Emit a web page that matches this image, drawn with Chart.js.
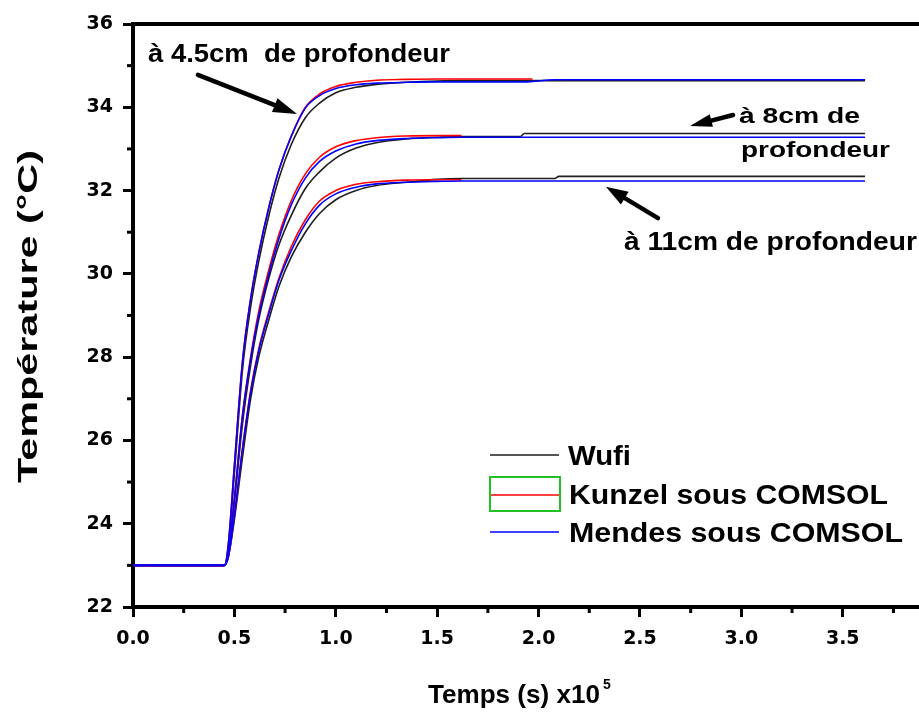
<!DOCTYPE html>
<html>
<head>
<meta charset="utf-8">
<script src="https://cdn.jsdelivr.net/npm/chart.js@4.4.1/dist/chart.umd.min.js"></script>
<style>
html,body{margin:0;padding:0;background:#fff;}
canvas{display:block;}
</style>
</head>
<body>
<canvas id="c" width="919" height="713" style="width:919px;height:713px"></canvas>
<script>
// ---- data (time in units of 1e5 s, temperature in °C) ----
const timeE5 = [0, 0.45, 0.47, 0.50, 0.54, 0.58, 0.62, 0.67, 0.72, 0.78, 0.85, 0.92, 1.00, 1.10, 1.20, 1.35, 1.50, 1.62, 1.80, 1.91, 1.93, 1.97, 2.08, 2.10, 2.50, 3.00, 3.61];

const wufi45   = [23, 23, 23.4, 25.2, 27.7, 29.2, 30.3, 31.4, 32.3, 33.1, 33.75, 34.1, 34.35, 34.48, 34.55, 34.6, 34.63, 34.64, 34.64, 34.64, 34.64, 34.64, 34.64, 34.64, 34.64, 34.64, 34.64];
const kunzel45 = [23, 23, 23.5, 25.4, 27.9, 29.4, 30.5, 31.6, 32.5, 33.3, 34.0, 34.32, 34.5, 34.6, 34.65, 34.67, 34.68, 34.68, 34.68, 34.68, 34.68, 34.68, null, null, null, null, null];
const mendes45 = [23, 23, 23.5, 25.4, 27.9, 29.4, 30.5, 31.6, 32.5, 33.3, 33.98, 34.28, 34.45, 34.54, 34.58, 34.6, 34.61, 34.61, 34.61, 34.61, 34.61, 34.62, 34.66, 34.66, 34.66, 34.66, 34.66];

const wufi8    = [23, 23, 23.3, 24.5, 26.4, 27.8, 28.9, 29.9, 30.7, 31.4, 32.05, 32.45, 32.78, 33.02, 33.15, 33.24, 33.28, 33.3, 33.3, 33.3, 33.37, 33.37, 33.37, 33.37, 33.37, 33.37, 33.37];
const kunzel8  = [23, 23, 23.3, 24.6, 26.6, 28.0, 29.1, 30.1, 30.95, 31.75, 32.4, 32.8, 33.05, 33.2, 33.27, 33.31, 33.32, 33.32, null, null, null, null, null, null, null, null, null];
const mendes8  = [23, 23, 23.3, 24.6, 26.6, 27.95, 29.0, 30.0, 30.85, 31.65, 32.3, 32.7, 32.95, 33.12, 33.2, 33.25, 33.27, 33.28, 33.28, 33.28, 33.28, 33.28, 33.28, 33.28, 33.28, 33.28, 33.28];

const wufi11   = [23, 23, 23.2, 24.1, 25.6, 27.0, 28.0, 28.9, 29.7, 30.4, 31.0, 31.45, 31.78, 32.0, 32.12, 32.2, 32.27, 32.29, 32.29, 32.29, 32.29, 32.29, 32.29, 32.34, 32.34, 32.34, 32.34];
const kunzel11 = [23, 23, 23.2, 24.2, 25.8, 27.2, 28.2, 29.1, 29.9, 30.65, 31.3, 31.75, 32.0, 32.15, 32.21, 32.25, 32.26, 32.26, null, null, null, null, null, null, null, null, null];
const mendes11 = [23, 23, 23.2, 24.2, 25.8, 27.15, 28.15, 29.05, 29.85, 30.55, 31.2, 31.65, 31.92, 32.08, 32.16, 32.2, 32.22, 32.23, 32.23, 32.23, 32.23, 32.23, 32.23, 32.23, 32.23, 32.23, 32.23];

const xTickValues = [0, 0.5, 1.0, 1.5, 2.0, 2.5, 3.0, 3.5];
const xMinorValues = [0.25, 0.75, 1.25, 1.75, 2.25, 2.75, 3.25, 3.75];
const yTickValues = [22, 24, 26, 28, 30, 32, 34, 36];
const yMinorValues = [23, 25, 27, 29, 31, 33, 35];

const seriesNames = ['Wufi', 'Kunzel sous COMSOL', 'Mendes sous COMSOL'];
const depthLabels = ['à 4.5cm  de profondeur', 'à 8cm de', 'profondeur', 'à 11cm de profondeur'];
const xTitle = 'Temps (s) x10';
const xTitleExp = '5';
const yTitle = 'Température (°C)';

// ---- styles ----
const COL_WUFI = '#1e1e1e', COL_KUNZEL = '#ff0000', COL_MENDES = '#0000ff';

function pts(vals){ const out=[]; vals.forEach((v,i)=>{ if(v!==null) out.push({x:timeE5[i], y:v}); }); return out; }
function ds(label, vals, color){ return {label, data:pts(vals), borderColor:color, backgroundColor:color, borderWidth:1.6, pointRadius:0, fill:false, cubicInterpolationMode:'monotone'}; }

// first dataset is drawn on top
const datasets = [
  ds('Mendes 4.5', mendes45, COL_MENDES), ds('Mendes 8', mendes8, COL_MENDES), ds('Mendes 11', mendes11, COL_MENDES),
  ds('Kunzel 4.5', kunzel45, COL_KUNZEL), ds('Kunzel 8', kunzel8, COL_KUNZEL), ds('Kunzel 11', kunzel11, COL_KUNZEL),
  ds('Wufi 4.5', wufi45, COL_WUFI), ds('Wufi 8', wufi8, COL_WUFI), ds('Wufi 11', wufi11, COL_WUFI)
];

function fitText(ctx, str, x, y, size, width, rotate){
  ctx.save();
  ctx.font = 'bold ' + size + 'px "Liberation Sans", Arial, sans-serif';
  ctx.textAlign = 'left'; ctx.textBaseline = 'alphabetic'; ctx.fillStyle = '#000';
  const w = ctx.measureText(str).width;
  ctx.translate(x, y);
  if (rotate) ctx.rotate(-Math.PI/2);
  if (width) ctx.scale(width / w, 1);
  ctx.fillText(str, 0, 0);
  ctx.restore();
}

function arrow(ctx, x1, y1, x2, y2, headLen, headW, lw){
  const ang = Math.atan2(y2-y1, x2-x1);
  const bx = x2 - headLen*Math.cos(ang), by = y2 - headLen*Math.sin(ang);
  ctx.save();
  ctx.strokeStyle = '#000'; ctx.fillStyle = '#000'; ctx.lineWidth = lw; ctx.lineCap = 'round';
  ctx.beginPath(); ctx.moveTo(x1, y1); ctx.lineTo(bx, by); ctx.stroke();
  const nx = -Math.sin(ang), ny = Math.cos(ang);
  ctx.beginPath();
  ctx.moveTo(x2, y2);
  ctx.lineTo(bx + nx*headW/2, by + ny*headW/2);
  ctx.lineTo(bx - nx*headW/2, by - ny*headW/2);
  ctx.closePath(); ctx.fill();
  ctx.restore();
}

const decor = {
  id: 'decor',
  afterDraw(chart){
    const ctx = chart.ctx, a = chart.chartArea;
    const xs = chart.scales.x, ys = chart.scales.y;
    const X = v => xs.getPixelForValue(v), Y = v => ys.getPixelForValue(v);
    ctx.save();
    // top frame line
    ctx.strokeStyle = '#000'; ctx.lineWidth = 4;
    ctx.beginPath(); ctx.moveTo(a.left - 2, a.top); ctx.lineTo(a.right, a.top); ctx.stroke();
    // minor ticks
    ctx.lineWidth = 3;
    xMinorValues.forEach(v => { const p = X(v); ctx.beginPath(); ctx.moveTo(p, a.bottom); ctx.lineTo(p, a.bottom + 6); ctx.stroke(); });
    yMinorValues.forEach(v => { const p = Y(v); ctx.beginPath(); ctx.moveTo(a.left, p); ctx.lineTo(a.left - 6, p); ctx.stroke(); });
    ctx.restore();

    // annotations (anchored in data units)
    fitText(ctx, depthLabels[0], X(0.074), Y(35.09), 25, 302);
    arrow(ctx, X(0.32), Y(34.78), X(0.809), Y(33.84), 24, 15, 4.5);
    fitText(ctx, depthLabels[1], X(2.988), Y(33.62), 22, 121);
    fitText(ctx, depthLabels[2], X(2.998), Y(32.81), 22, 149);
    arrow(ctx, X(2.959), Y(33.815), X(2.747), Y(33.55), 22, 13, 4.5);
    fitText(ctx, depthLabels[3], X(2.421), Y(30.57), 26, 293);
    arrow(ctx, X(2.589), Y(31.34), X(2.332), Y(32.09), 22, 15, 4.5);

    // legend
    ctx.save();
    ctx.lineWidth = 1.6;
    ctx.strokeStyle = COL_WUFI; ctx.beginPath(); ctx.moveTo(490, 455); ctx.lineTo(559, 455); ctx.stroke();
    ctx.strokeStyle = COL_KUNZEL; ctx.beginPath(); ctx.moveTo(491, 495); ctx.lineTo(559, 495); ctx.stroke();
    ctx.strokeStyle = COL_MENDES; ctx.beginPath(); ctx.moveTo(490, 532); ctx.lineTo(559, 532); ctx.stroke();
    ctx.strokeStyle = '#22c022'; ctx.lineWidth = 2; ctx.strokeRect(490, 477, 70, 34);
    ctx.restore();
    fitText(ctx, seriesNames[0], 568, 465, 27, 63);
    fitText(ctx, seriesNames[1], 569, 504, 27, 319);
    fitText(ctx, seriesNames[2], 569, 542, 27, 334);

    // axis titles
    fitText(ctx, xTitle, 428, 703, 26, 172);
    fitText(ctx, xTitleExp, 603, 689, 14, null);
    fitText(ctx, yTitle, 37, 483, 27, 333, true);
  }
};

const tickFont = {family: '"DejaVu Sans", sans-serif', weight: 'bold', size: 19};

new Chart(document.getElementById('c').getContext('2d'), {
  type: 'line',
  data: { datasets },
  options: {
    responsive: false,
    animation: false,
    devicePixelRatio: 1,
    layout: { padding: { top: 24, right: 0, left: 0, bottom: 0 } },
    plugins: { legend: { display: false }, tooltip: { enabled: false } },
    scales: {
      x: {
        type: 'linear', min: 0, max: 3.876,
        afterBuildTicks: s => { s.ticks = xTickValues.map(v => ({ value: v })); },
        afterFit: s => { s.height = 106; },
        ticks: { callback: v => Number(v).toFixed(1), font: tickFont, color: '#000', padding: 11, maxRotation: 0, autoSkip: false },
        grid: { drawOnChartArea: false, drawTicks: true, tickLength: 10, tickWidth: 3, tickColor: '#000' },
        border: { display: true, width: 4, color: '#000' }
      },
      y: {
        type: 'linear', min: 22, max: 36,
        afterBuildTicks: s => { s.ticks = yTickValues.map(v => ({ value: v })); },
        afterFit: s => { s.width = 133; },
        ticks: { callback: v => String(v), font: tickFont, color: '#000', padding: 10, autoSkip: false },
        grid: { drawOnChartArea: false, drawTicks: true, tickLength: 10, tickWidth: 3, tickColor: '#000' },
        border: { display: true, width: 4, color: '#000' }
      }
    }
  },
  plugins: [decor]
});
</script>
</body>
</html>
